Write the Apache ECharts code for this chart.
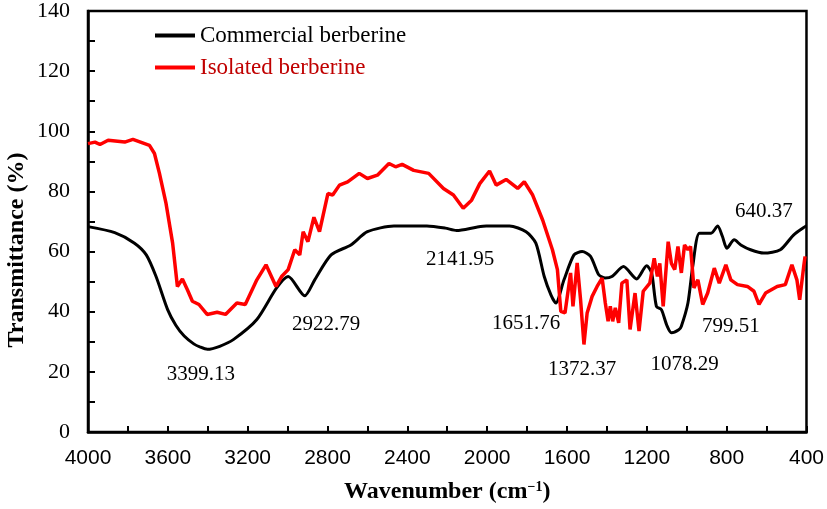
<!DOCTYPE html>
<html>
<head>
<meta charset="utf-8">
<script src="https://cdn.jsdelivr.net/npm/echarts@6/dist/echarts.min.js"></script>
<style>html,body{margin:0;padding:0;background:#fff}#c{width:827px;height:509px}</style>
</head>
<body>
<div id="c"></div>
<script>
// Wavenumber (cm-1) and transmittance (%)
var commercialX = [4000, 3866, 3767, 3708, 3659, 3601, 3560, 3518, 3470, 3440, 3402, 3340, 3270, 3154, 3055, 2997, 2914, 2864, 2782, 2683, 2600, 2467, 2302, 2210, 2153, 2054, 2004, 1888, 1805, 1756, 1714, 1680, 1656, 1615, 1565, 1524, 1482, 1441, 1408, 1375, 1317, 1251, 1201, 1176, 1152, 1127, 1100, 1077, 1040, 1027, 994, 970, 936, 878, 845, 821, 799, 762, 729, 680, 614, 531, 465, 407, 400];
var commercialY = [68.3, 66.3, 62.8, 58.9, 51.7, 40.7, 35.5, 31.9, 29.3, 28.3, 27.5, 28.5, 30.8, 37.4, 47.9, 51.7, 45.3, 50.6, 58.9, 62.2, 66.6, 68.5, 68.5, 67.8, 67.0, 68.1, 68.5, 68.5, 66.6, 62.8, 51.7, 45.5, 42.9, 50.6, 58.9, 60.0, 58.4, 52.3, 51.2, 51.7, 55.0, 50.9, 55.3, 52.9, 41.8, 40.7, 35.5, 33.0, 34.0, 35.2, 42.9, 55.0, 66.1, 66.1, 68.5, 65.0, 61.1, 63.9, 62.2, 60.6, 59.5, 60.6, 65.5, 68.3, 68.5];
var isolatedX = [4000, 3965, 3940, 3899, 3816, 3775, 3692, 3667, 3642, 3609, 3576, 3552, 3527, 3502, 3477, 3444, 3403, 3353, 3311, 3254, 3212, 3154, 3108, 3058, 3030, 2997, 2964, 2939, 2922, 2898, 2868, 2840, 2798, 2774, 2740, 2699, 2641, 2600, 2550, 2492, 2459, 2426, 2368, 2293, 2219, 2169, 2120, 2078, 2037, 1988, 1955, 1905, 1847, 1814, 1772, 1722, 1673, 1648, 1631, 1610, 1582, 1570, 1549, 1532, 1515, 1499, 1474, 1449, 1424, 1408, 1394, 1383, 1371, 1358, 1341, 1325, 1300, 1284, 1259, 1239, 1218, 1209, 1185, 1163, 1147, 1135, 1118, 1093, 1077, 1060, 1044, 1027, 1011, 994, 981, 964, 944, 920, 895, 862, 837, 804, 779, 746, 696, 663, 638, 605, 547, 506, 473, 448, 434, 414, 407];
var isolatedY = [95.9, 96.4, 95.6, 97.0, 96.4, 97.3, 95.3, 92.6, 86.0, 76.0, 62.8, 48.4, 50.9, 47.3, 43.5, 42.4, 39.1, 39.8, 39.1, 42.9, 42.4, 50.6, 55.6, 48.4, 51.7, 54.0, 60.6, 58.9, 66.6, 63.3, 71.4, 66.6, 79.3, 78.8, 82.1, 83.2, 86.0, 84.3, 85.4, 89.3, 88.2, 89.0, 87.0, 86.0, 81.0, 78.8, 74.4, 77.1, 82.6, 86.8, 82.1, 84.0, 81.0, 83.2, 78.8, 70.5, 60.6, 54.0, 40.1, 39.6, 52.9, 41.8, 56.2, 44.0, 29.1, 39.6, 45.1, 48.4, 51.2, 42.9, 36.8, 41.8, 36.8, 41.3, 36.3, 49.5, 50.6, 34.1, 46.2, 33.6, 46.8, 47.3, 49.5, 57.8, 51.7, 56.1, 41.8, 63.3, 56.1, 54.0, 61.7, 52.9, 62.2, 60.6, 61.7, 47.9, 50.6, 42.4, 46.2, 54.5, 49.5, 55.6, 50.6, 49.0, 48.4, 46.8, 42.4, 46.2, 48.4, 49.0, 55.6, 50.6, 44.0, 55.0, 58.4];
// Peak annotations
var peakLabels = ['3399.13', '2922.79', '2141.95', '1651.76', '1372.37', '1078.29', '799.51', '640.37'];
var peakX = [3435, 2807, 2136, 1805, 1524, 1011, 779, 614];
var peakY = [19.2, 35.7, 57.3, 36.2, 20.9, 22.5, 35.2, 73.3];
var seriesNames = ['Commercial berberine', 'Isolated berberine'];

function pairs(xs, ys) { return xs.map(function (x, i) { return [x, ys[i]]; }); }

var serif = 'Liberation Serif, Times New Roman, serif';
var chart = echarts.init(document.getElementById('c'), null, { renderer: 'canvas' });
chart.setOption({
  animation: false,
  backgroundColor: '#fff',
  grid: { left: 88, right: 14, top: 10, bottom: 76, show: true, borderColor: '#000', borderWidth: 2.5 },
  legend: {
    orient: 'vertical', left: 155, top: 24, padding: 0, itemGap: 9,
    itemWidth: 40, itemHeight: 4, icon: 'rect',
    textStyle: { fontFamily: serif, fontSize: 23, color: '#000' },
    data: [
      { name: seriesNames[0], textStyle: { color: '#000' } },
      { name: seriesNames[1], textStyle: { color: '#c00000' } }
    ]
  },
  xAxis: {
    type: 'value', min: 400, max: 4000, interval: 200, inverse: true,
    name: 'Wavenumber (cm{sup|−1})', nameLocation: 'middle', nameGap: 48,
    nameTextStyle: {
      fontFamily: serif, fontSize: 24, fontWeight: 'bold', color: '#000',
      rich: { sup: { fontFamily: serif, fontSize: 14, fontWeight: 'bold', verticalAlign: 'top', padding: [0, 0, 10, 0], color: '#000' } }
    },
    axisLine: { show: true, lineStyle: { color: '#000', width: 2.5 } },
    axisTick: { show: true, inside: true, length: 6, lineStyle: { color: '#000', width: 2 } },
    axisLabel: {
      margin: 16, fontFamily: 'Liberation Sans Narrow, Arial Narrow, Liberation Sans, sans-serif', fontSize: 21, color: '#000',
      formatter: function (v) { return v % 400 === 0 ? String(v) : ''; }
    },
    splitLine: { show: false }
  },
  yAxis: {
    type: 'value', min: 0, max: 140, interval: 10,
    axisLine: { show: true, lineStyle: { color: '#000', width: 2.5 } },
    axisTick: { show: true, inside: true, length: 7, lineStyle: { color: '#000', width: 2 } },
    axisLabel: {
      margin: 18, fontFamily: serif, fontSize: 22, color: '#000',
      formatter: function (v) { return v % 20 === 0 ? String(v) : ''; }
    },
    splitLine: { show: false }
  },
  graphic: [{
    type: 'text', rotation: Math.PI / 2, x: 17, y: 250,
    style: { text: 'Transmittance (%)', fontFamily: serif, fontSize: 24, fontWeight: 'bold', fill: '#000', align: 'center', verticalAlign: 'middle' }
  }],
  series: [
    { name: seriesNames[0], type: 'line', data: pairs(commercialX, commercialY), showSymbol: false, symbol: 'none', smooth: 0.25,
      lineStyle: { color: '#000', width: 3 }, itemStyle: { color: '#000' }, z: 2 },
    { name: seriesNames[1], type: 'line', data: pairs(isolatedX, isolatedY), showSymbol: false, symbol: 'none',
      lineStyle: { color: '#ff0000', width: 3.5 }, itemStyle: { color: '#ff0000' }, z: 3 },
    { name: 'peaks', type: 'scatter', symbolSize: 0, silent: true, itemStyle: { opacity: 1 },
      data: peakX.map(function (x, i) { return { value: [x, peakY[i]], name: peakLabels[i] }; }),
      label: { show: true, position: 'inside', formatter: '{b}', fontFamily: serif, fontSize: 21, color: '#000', opacity: 1 }, z: 4 }
  ]
});
</script>
</body>
</html>
